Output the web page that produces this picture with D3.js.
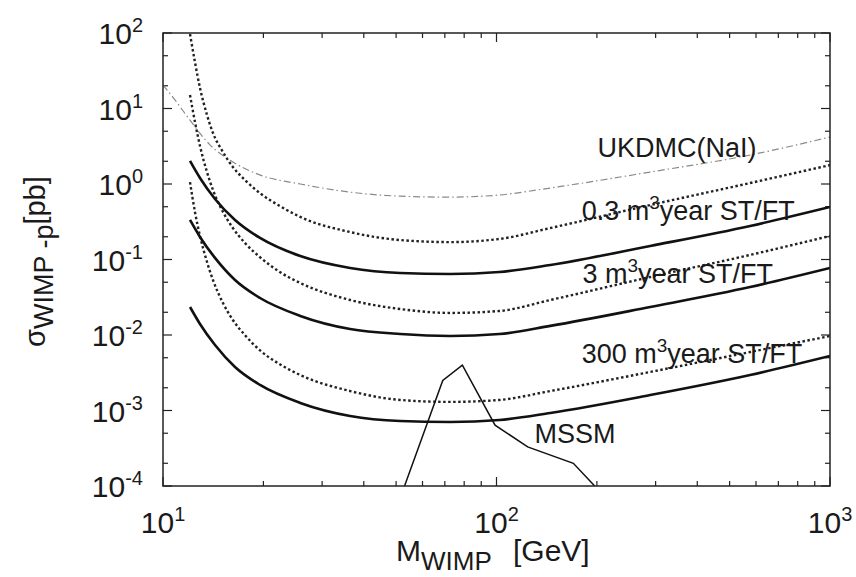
<!DOCTYPE html>
<head>
<meta charset="utf-8">
<script src="https://d3js.org/d3.v7.min.js"></script>
<style>
body { margin:0; background:#fff; }
text { font-family: "Liberation Sans", Arial, Helvetica, sans-serif; fill:#1a1a1a; }
</style>
</head>
<body>
<script>

// axis ticks
var massTicks = [10, 100, 1000];
var massExp = ["1", "2", "3"];
var sigmaTicks = [1e-4, 1e-3, 1e-2, 1e-1, 1, 10, 100];
var sigmaExp = ["-4", "-3", "-2", "-1", "0", "1", "2"];

// curves: [M_WIMP (GeV), sigma (pb)]
var ukdmc = [[10,20.5],[10.86,13],[12.05,7.0],[13.83,3.3],[16.2,1.96],[19.5,1.32],[25.8,1.0],[36.4,0.78],[51.4,0.69],[72.6,0.67],[102,0.715],[145,0.885],[289,1.44],[576,2.42],[1000,4.19]];

var dotted03 = [[12.05,97],[12.47,41],[12.91,18.7],[13.55,8.2],[14.12,4.73],[15.13,2.65],[16.2,1.68],[17.6,1.13],[19.5,0.76],[22.4,0.511],[25.8,0.366],[36.4,0.231],[51.4,0.181],[72.6,0.17],[102,0.187],[145,0.261],[289,0.527],[576,1.03],[1000,1.78]];
var solid03 = [[12.05,2.02],[12.91,1.2],[14.32,0.633],[16.44,0.334],[19.54,0.193],[25.8,0.111],[36.4,0.0772],[51.4,0.0663],[72.6,0.0643],[102,0.0683],[145,0.0846],[289,0.151],[576,0.278],[1000,0.496]];

var dotted3 = [[12.05,15.1],[12.47,6.63],[12.91,3.19],[13.55,1.44],[14.12,0.833],[15.13,0.426],[16.2,0.261],[17.6,0.166],[19.5,0.108],[22.4,0.0683],[25.8,0.0488],[36.4,0.0291],[51.4,0.0221],[72.6,0.0196],[102,0.0208],[145,0.0291],[289,0.0586],[576,0.115],[1000,0.205]];
var solid3 = [[12.05,0.334],[12.91,0.199],[14.32,0.105],[16.44,0.0535],[19.54,0.0309],[25.8,0.0179],[36.4,0.012],[51.4,0.0103],[72.6,0.0097],[102,0.0103],[145,0.0132],[289,0.0235],[576,0.0432],[1000,0.0772]];

var dotted300 = [[12.05,1.06],[12.47,0.426],[12.91,0.205],[13.55,0.0927],[14.12,0.0535],[15.13,0.0265],[16.2,0.0158],[17.6,0.01],[19.5,0.0063],[22.4,0.0041],[25.8,0.00295],[36.4,0.00181],[51.4,0.00138],[72.6,0.0013],[102,0.00138],[145,0.00181],[289,0.00324],[576,0.00595],[1000,0.0097]];
var solid300 = [[12.05,0.0235],[12.91,0.014],[14.32,0.00737],[16.44,0.00377],[19.54,0.00218],[25.8,0.00126],[36.4,0.000846],[51.4,0.000726],[72.6,0.000704],[102,0.000748],[145,0.000927],[289,0.0016],[576,0.00295],[1000,0.00527]];

var mssm = [[53,1e-4],[69,2.5e-3],[79,4.0e-3],[99,6.4e-4],[124,3.3e-4],[170,2.0e-4],[197,1.0e-4]];

// curve labels: text, superscript, rest, anchor [M, sigma]
var labelText = ["UKDMC(NaI)", "0.3 m", "3 m", "300 m", "MSSM"];
var labelSup = ["", "3", "3", "3", ""];
var labelRest = ["", "year ST/FT", "year ST/FT", "year ST/FT", ""];
var labelAt = [[201,2.3],[180,0.335],[181,0.049],[180,0.0043],[130,3.7e-4]];

var width = 856,
  height = 577;

var svg = d3.select("body").append("svg")
  .attr("width", width)
  .attr("height", height);

var x = d3.scaleLog().domain([10, 1000]).range([163, 830]);
var y = d3.scaleLog().domain([1e-4, 100]).range([486, 33]);

function mant(v) {
  return Math.round(v / Math.pow(10, Math.floor(Math.log10(v) + 1e-9)));
}

svg.append("clipPath").attr("id", "plot")
  .append("rect")
  .attr("x", x.range()[0]).attr("y", y.range()[1])
  .attr("width", x.range()[1] - x.range()[0])
  .attr("height", y.range()[0] - y.range()[1]);

// ticks, inward on all four sides
var tk = svg.append("g").attr("stroke", "#222").attr("stroke-width", 1.2);
x.ticks().forEach(function(v) {
  var len = mant(v) == 1 ? 9 : 5;
  tk.append("line").attr("x1", x(v)).attr("x2", x(v)).attr("y1", y.range()[0]).attr("y2", y.range()[0] - len);
  tk.append("line").attr("x1", x(v)).attr("x2", x(v)).attr("y1", y.range()[1]).attr("y2", y.range()[1] + len);
});
y.ticks().filter(function(v) { var m = mant(v); return m == 1 || m == 2 || m == 5; }).forEach(function(v) {
  var len = mant(v) == 1 ? 9 : 5;
  tk.append("line").attr("y1", y(v)).attr("y2", y(v)).attr("x1", x.range()[0]).attr("x2", x.range()[0] + len);
  tk.append("line").attr("y1", y(v)).attr("y2", y(v)).attr("x1", x.range()[1]).attr("x2", x.range()[1] - len);
});

// tick labels
massTicks.forEach(function(v, i) {
  var t = svg.append("text").attr("x", x(v)).attr("y", 533)
    .attr("text-anchor", "middle").style("font-size", "30px");
  t.append("tspan").text("10");
  t.append("tspan").attr("dy", -12).style("font-size", "20px").text(massExp[i]);
});
sigmaTicks.forEach(function(v, i) {
  var t = svg.append("text").attr("x", 143).attr("y", y(v) + 11)
    .attr("text-anchor", "end").style("font-size", "30px");
  t.append("tspan").text("10");
  t.append("tspan").attr("dy", -12).style("font-size", "20px").text(sigmaExp[i]);
});

// curves
var line = d3.line()
  .x(function(d) { return x(d[0]); })
  .y(function(d) { return y(d[1]); })
  .curve(d3.curveMonotoneX);

var g = svg.append("g").attr("clip-path", "url(#plot)").attr("fill", "none");

g.append("path").datum(ukdmc).attr("d", line)
  .attr("stroke", "#8a8a8a").attr("stroke-width", 1.2).attr("stroke-dasharray", "7,3,1.5,3");

[dotted03, dotted3, dotted300].forEach(function(s) {
  g.append("path").datum(s).attr("d", line)
    .attr("stroke", "#222").attr("stroke-width", 2.4).attr("stroke-dasharray", "2.5,2.5");
});
[solid03, solid3, solid300].forEach(function(s) {
  g.append("path").datum(s).attr("d", line)
    .attr("stroke", "#111").attr("stroke-width", 2.6);
});
g.append("path").datum(mssm).attr("d", line.curve(d3.curveLinear))
  .attr("stroke", "#111").attr("stroke-width", 1.5);

// frame
svg.append("rect")
  .attr("x", x.range()[0]).attr("y", y.range()[1])
  .attr("width", x.range()[1] - x.range()[0])
  .attr("height", y.range()[0] - y.range()[1])
  .attr("fill", "none").attr("stroke", "#222").attr("stroke-width", 1.5);

// curve labels
labelText.forEach(function(s, i) {
  var t = svg.append("text").attr("x", x(labelAt[i][0])).attr("y", y(labelAt[i][1]))
    .style("font-size", "27px");
  t.append("tspan").text(s);
  if (labelSup[i]) {
    t.append("tspan").attr("dy", -11).style("font-size", "19px").text(labelSup[i]);
    t.append("tspan").attr("dy", 11).text(labelRest[i]);
  }
});

// axis titles
var xl = svg.append("text").attr("x", 396).attr("y", 561).style("font-size", "30px");
xl.append("tspan").text("M");
xl.append("tspan").attr("dy", 9).style("font-size", "26px").text("WIMP");
xl.append("tspan").attr("x", 513).attr("dy", -9).text("[GeV]");

var yl = svg.append("text").attr("transform", "translate(45,347) rotate(-90)").style("font-size", "29px");
yl.append("tspan").text("σ");
yl.append("tspan").attr("dy", 8).style("font-size", "27px").text("WIMP -p");
yl.append("tspan").attr("dy", -8).text("[pb]");

</script>
</body>
